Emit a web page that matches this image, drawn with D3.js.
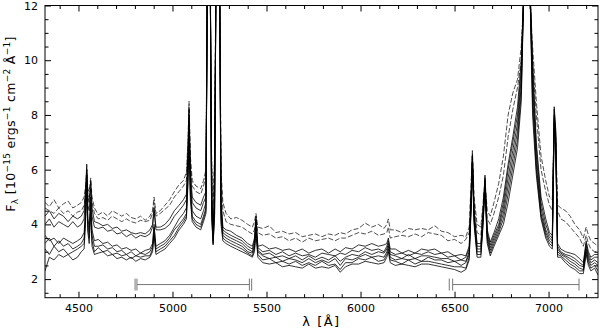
<!DOCTYPE html>
<html>
<head>
<meta charset="utf-8">
<script src="https://cdn.jsdelivr.net/npm/d3@7"></script>
<style>
  body { margin: 0; background: #fff; }
  text { font-family: "DejaVu Sans", sans-serif; fill: #000; }
</style>
</head>
<body>
<div id="chart"></div>
<script>
// ===== Data =====

// shared wavelength grid (Angstrom)
const lam = [
  4322,4345,4370,4395,4420,4445,4470,4495,4515,
  4530,4538,4544,4550,4557,4565,4572,4585,
  4605,4630,4655,4680,4705,4730,4755,4780,4805,4830,4855,4880,
  4894,4902,4912,
  4935,4960,4985,5010,5035,5058,5074,
  5082,5088,5095,5105,
  5125,5150,5165,
  5178,5186,5193,5200,5208,5216,5224,5232,5241,5250,5258,5268,
  5285,5310,5340,5370,5400,5425,
  5436,5444,5454,
  5480,5515,5550,5585,5620,5655,5690,5725,5760,5795,5830,5865,5892,5920,5955,5990,6025,6060,6095,6125,
  6140,6148,6158,
  6185,6220,6255,6290,6325,6360,6395,6430,6465,6500,6535,6560,
  6578,6588,6595,6604,6620,6640,6652,6662,6674,6690,6710,6735,6760,6785,6810,6835,6855,6870,6885,6900,6915,6935,6960,6985,7005,
  7020,7030,7038,7048,
  7065,7090,7115,7140,7165,7185,7200,7212,7225,7245,7263
];

const spec1 = [
  4.8,4.65,4.9,4.6,4.75,4.85,4.6,4.7,4.8,
  5.0,5.4,6.0,5.3,5.2,5.7,5.0,4.6,
  4.35,4.45,4.3,4.5,4.4,4.3,4.4,4.25,4.2,4.3,4.15,4.3,
  4.5,5.0,4.4,
  4.5,4.7,4.9,5.2,5.45,5.6,5.9,
  7.0,8.5,6.5,5.6,
  5.4,5.3,5.6,
  6.0,14,16,14,6.5,5.0,6.5,14,16,14,6.0,4.8,
  4.4,4.2,4.25,4.15,4.0,3.9,
  4.1,4.4,3.9,
  3.85,3.95,3.7,3.75,3.65,3.7,3.55,3.6,3.65,3.55,3.65,3.6,3.7,3.65,3.8,3.85,4.05,3.9,4.0,3.85,
  4.0,4.2,3.8,
  3.8,3.7,3.85,3.8,3.85,3.8,3.95,3.75,3.7,3.55,3.6,3.55,
  3.9,5.5,6.7,5.0,4.0,3.9,4.8,5.6,4.5,4.3,4.8,5.5,6.5,8.0,8.8,9.3,10.5,12.5,13,12.5,10.5,8.5,6.5,5.6,5.0,
  4.9,7.6,7.2,4.7,
  4.6,4.5,4.3,4.0,3.8,3.5,3.9,3.6,3.4,3.3,3.2
];

const spec2 = [
  4.6,4.5,4.4,4.6,4.4,4.5,4.3,4.45,4.5,
  4.7,5.2,5.8,5.1,5.0,5.5,4.8,4.4,
  4.2,4.25,4.15,4.3,4.2,4.1,4.2,4.1,4.05,4.15,4.1,4.15,
  4.4,4.8,4.3,
  4.4,4.55,4.7,5.0,5.2,5.4,5.6,
  6.8,8.3,6.3,5.4,
  5.2,5.1,5.4,
  5.8,14,16,14,6.2,4.7,6.2,14,16,14,5.7,4.5,
  4.1,4.0,3.95,3.9,3.75,3.65,
  3.8,4.2,3.7,
  3.6,3.65,3.5,3.55,3.4,3.5,3.35,3.5,3.4,3.45,3.5,3.4,3.5,3.5,3.6,3.7,3.65,3.75,3.6,3.65,
  3.7,3.9,3.5,
  3.55,3.6,3.55,3.65,3.55,3.7,3.65,3.6,3.4,3.45,3.3,3.45,
  3.7,5.3,6.5,4.8,3.7,3.6,4.6,5.4,4.2,4.0,4.4,5.0,5.8,7.2,8.2,9.0,10.0,12.5,13,12.5,10.0,8.0,6.0,5.2,4.7,
  4.5,7.8,7.0,4.5,
  4.2,4.1,3.9,3.7,3.5,3.2,3.6,3.3,3.1,3.0,3.0
];

const spec3 = [
  4.3,4.5,4.2,4.4,4.3,4.1,4.3,4.2,4.3,
  4.5,5.3,6.2,5.0,4.8,5.6,4.6,4.1,
  4.05,3.95,4.0,3.85,3.9,3.75,3.8,3.7,3.65,3.7,3.65,3.8,
  4.0,4.6,3.9,
  3.9,4.0,4.2,4.5,4.7,4.9,5.1,
  6.5,8.2,6.0,5.0,
  4.8,4.7,5.0,
  5.2,14,16,14,5.5,4.0,5.5,14,16,14,5.0,3.9,
  3.8,3.75,3.6,3.5,3.3,3.2,
  3.5,4.3,3.2,
  3.25,3.1,3.15,3.05,3.1,3.0,3.1,2.95,3.05,3.1,2.95,3.1,3.0,3.15,3.1,3.25,3.2,3.3,3.2,3.25,
  3.3,3.5,3.1,
  3.1,2.95,3.05,2.95,3.1,3.05,3.1,2.95,3.0,2.85,2.9,2.85,
  3.2,5.0,6.6,4.5,3.3,3.3,4.5,5.8,3.8,3.35,3.7,4.2,5.0,6.2,7.2,8.3,10,13,14,13,10,7.0,5.0,4.2,3.7,
  3.6,8.3,7.5,3.3,
  3.1,3.0,2.95,2.9,2.75,2.6,3.4,3.0,2.8,2.9,2.9
];

const spec4 = [
  4.0,4.2,3.9,4.1,4.0,3.9,4.1,3.9,4.0,
  4.2,5.0,6.0,4.7,4.5,5.3,4.3,3.9,
  3.85,3.9,3.75,3.8,3.65,3.7,3.55,3.65,3.5,3.6,3.55,3.65,
  3.9,4.5,3.8,
  3.8,3.85,4.0,4.3,4.5,4.7,4.9,
  6.3,8.0,5.8,4.8,
  4.6,4.5,4.8,
  5.0,14,16,14,5.2,3.8,5.2,14,16,14,4.8,3.8,
  3.7,3.6,3.5,3.4,3.2,3.1,
  3.4,4.2,3.15,
  3.0,3.05,2.9,3.0,2.85,2.95,2.85,2.9,2.8,2.95,2.9,2.85,2.95,2.9,3.05,3.0,3.15,3.05,3.1,3.0,
  3.2,3.4,3.0,
  2.9,2.95,2.85,2.95,2.9,3.0,2.9,2.95,2.8,2.85,2.7,2.8,
  3.1,4.9,6.5,4.4,3.2,3.2,4.4,5.7,3.7,3.25,3.6,4.0,4.8,6.0,7.0,8.0,9.7,13,14,13,9.6,6.8,4.8,4.0,3.6,
  3.5,8.2,7.4,3.2,
  3.0,2.9,2.85,2.75,2.6,2.5,3.3,2.9,2.7,2.8,2.8
];

const spec5 = [
  3.6,3.4,3.5,3.3,3.5,3.4,3.3,3.4,3.5,
  3.7,4.6,5.8,4.2,3.9,5.0,3.8,3.4,
  3.45,3.3,3.35,3.2,3.25,3.1,3.15,3.05,3.1,2.95,3.05,3.1,
  3.3,4.0,3.2,
  3.3,3.4,3.6,3.9,4.2,4.4,4.6,
  6.0,7.8,5.5,4.5,
  4.3,4.2,4.5,
  4.8,14,16,14,4.9,3.5,4.9,14,16,14,4.6,3.7,
  3.6,3.5,3.4,3.3,3.1,3.0,
  3.3,4.0,3.05,
  2.9,2.95,2.8,2.85,2.75,2.85,2.7,2.85,2.7,2.8,2.7,2.85,2.65,2.8,2.9,2.85,3.0,2.9,3.0,2.95,
  3.1,3.3,2.9,
  2.85,2.75,2.9,2.75,2.85,2.85,2.8,2.75,2.75,2.65,2.7,2.65,
  3.0,4.8,6.4,4.3,3.1,3.1,4.3,5.6,3.6,3.15,3.5,3.9,4.6,5.7,6.7,7.7,9.4,13,14,13,9.2,6.5,4.6,3.8,3.5,
  3.4,8.0,7.3,3.1,
  2.95,2.85,2.75,2.65,2.5,2.45,3.2,2.8,2.6,2.7,2.6
];

const spec6 = [
  3.3,3.5,3.2,3.4,3.2,3.3,3.1,3.2,3.3,
  3.5,4.4,5.6,4.0,3.7,4.8,3.6,3.2,
  3.2,3.25,3.1,3.15,3.0,3.05,2.9,3.0,2.85,2.95,2.9,3.0,
  3.2,3.9,3.1,
  3.2,3.3,3.5,3.8,4.0,4.2,4.4,
  5.8,7.6,5.3,4.3,
  4.1,4.0,4.3,
  4.6,14,16,14,4.6,3.4,4.6,14,16,14,4.4,3.6,
  3.5,3.4,3.3,3.2,3.0,2.95,
  3.2,3.9,3.0,
  2.85,2.75,2.8,2.65,2.75,2.7,2.6,2.75,2.6,2.7,2.6,2.75,2.5,2.75,2.7,2.8,2.9,2.8,2.85,2.8,
  3.0,3.2,2.8,
  2.7,2.75,2.7,2.75,2.65,2.8,2.7,2.7,2.6,2.65,2.5,2.6,
  2.9,4.7,6.3,4.2,3.0,3.0,4.2,5.5,3.5,3.05,3.4,3.8,4.4,5.4,6.4,7.4,9.1,13,14,13,8.8,6.2,4.4,3.7,3.4,
  3.3,7.9,7.1,3.0,
  2.9,2.8,2.65,2.55,2.4,2.35,3.1,2.7,2.5,2.6,2.5
];

const spec7 = [
  3.1,2.9,3.2,3.0,3.1,2.9,3.0,3.1,3.2,
  3.3,4.3,5.5,3.8,3.5,4.6,3.4,3.0,
  3.15,3.0,3.05,2.9,2.95,2.85,2.9,2.75,2.85,2.8,2.85,2.85,
  3.1,3.7,3.0,
  3.1,3.2,3.4,3.6,3.9,4.1,4.3,
  5.6,7.4,5.1,4.2,
  4.0,3.9,4.2,
  4.5,14,16,14,4.4,3.3,4.4,14,16,14,4.2,3.5,
  3.4,3.3,3.2,3.1,2.95,2.85,
  3.1,3.8,2.9,
  2.7,2.75,2.6,2.65,2.55,2.65,2.5,2.6,2.5,2.65,2.5,2.55,2.35,2.6,2.6,2.75,2.7,2.8,2.65,2.7,
  2.9,3.1,2.7,
  2.65,2.55,2.7,2.55,2.65,2.65,2.6,2.55,2.5,2.45,2.45,2.4,
  2.8,4.6,6.2,4.1,2.9,2.9,4.1,5.4,3.4,2.95,3.3,3.7,4.2,5.1,6.1,7.1,8.8,13,14,13,8.4,6.0,4.3,3.6,3.3,
  3.2,7.7,7.0,2.9,
  2.85,2.7,2.55,2.45,2.3,2.3,3.0,2.6,2.4,2.5,2.3
];

const spec8 = [
  2.3,2.8,2.7,2.9,2.8,2.9,2.7,2.8,3.0,
  3.1,4.1,5.3,3.7,3.3,4.4,3.2,2.9,
  2.95,3.0,2.85,2.9,2.75,2.8,2.7,2.8,2.65,2.75,2.7,2.8,
  3.0,3.6,2.9,
  3.0,3.1,3.3,3.5,3.8,4.0,4.2,
  5.4,7.2,4.9,4.1,
  3.9,3.8,4.1,
  4.4,14,16,14,4.3,3.25,4.3,14,16,14,4.0,3.4,
  3.3,3.2,3.1,3.0,2.9,2.8,
  3.0,3.7,2.8,
  2.6,2.55,2.6,2.45,2.5,2.45,2.4,2.55,2.4,2.45,2.4,2.5,2.25,2.45,2.55,2.55,2.65,2.6,2.55,2.6,
  2.8,3.0,2.6,
  2.5,2.55,2.5,2.45,2.55,2.55,2.5,2.45,2.4,2.35,2.25,2.35,
  2.7,4.5,6.1,4.0,2.8,2.8,4.0,5.3,3.3,2.85,3.2,3.6,4.0,4.8,5.8,6.8,8.5,13,14,13,8.0,5.8,4.2,3.5,3.2,
  3.1,7.5,6.8,2.8,
  2.8,2.6,2.45,2.35,2.2,2.2,2.9,2.5,2.3,2.4,2.15
];

const spectra = [spec1, spec2, spec3, spec4, spec5, spec6, spec7, spec8];
const dashed = [true, true, false, false, false, false, false, false];

const xTicks = [4500, 5000, 5500, 6000, 6500, 7000];
const yTicks = [2, 4, 6, 8, 10, 12];

// fitting windows drawn under the spectra
const windows = [[4811, 5409], [6490, 7162]];
const windowEnds = [4801, 4811, 5409, 5421, 6472, 6490, 7162];
const windowLevel = 1.8;

// ===== Layout =====

let margin = {top: 5.5, right: 2, bottom: 32.3, left: 45},
    width = 600 - margin.left - margin.right,
    height = 330 - margin.top - margin.bottom;

let x = d3.scaleLinear().domain([4322, 7263]).range([0, width]),
    y = d3.scaleLinear().domain([1.32, 12]).range([height, 0]);

let svg = d3.select("#chart").append("svg")
    .attr("width", 600)
    .attr("height", 330);

let g = svg.append("g")
    .attr("transform", "translate(" + margin.left + "," + margin.top + ")");

g.append("clipPath").attr("id", "clip")
  .append("rect").attr("width", width).attr("height", height);

// ===== Spectra =====

let line = d3.line()
    .x((d, i) => x(lam[i]))
    .y(d => y(d));

g.append("g").attr("clip-path", "url(#clip)")
  .selectAll("path")
  .data(spectra)
  .enter().append("path")
    .attr("d", line)
    .attr("fill", "none")
    .attr("stroke", (d, i) => dashed[i] ? "#222" : "#000")
    .attr("stroke-width", 0.8)
    .attr("stroke-dasharray", (d, i) => dashed[i] ? "5,2" : null);

// ===== Fitting windows =====

g.selectAll(".win")
  .data(windows)
  .enter().append("line")
    .attr("class", "win")
    .attr("x1", d => x(d[0]))
    .attr("x2", d => x(d[1]))
    .attr("y1", y(windowLevel))
    .attr("y2", y(windowLevel))
    .attr("stroke", "#777")
    .attr("stroke-width", 1);

g.selectAll(".winEnd")
  .data(windowEnds)
  .enter().append("line")
    .attr("class", "winEnd")
    .attr("x1", d => x(d))
    .attr("x2", d => x(d))
    .attr("y1", y(windowLevel) - 6)
    .attr("y2", y(windowLevel) + 6)
    .attr("stroke", "#777")
    .attr("stroke-width", 1);

// ===== Axes (ticks inward on all four sides) =====

let xMinor = d3.range(4400, 7300, 100).filter(v => v % 500 !== 0),
    yMinor = d3.range(1.5, 12, 0.5).filter(v => v % 2 !== 0);

function axisPair(axisFn, scale, major, minor, translate, labels) {
  let a = g.append("g").attr("transform", translate);
  a.call(axisFn(scale).tickValues(minor).tickSize(-3.5).tickFormat(""));
  let b = g.append("g").attr("transform", translate);
  b.call(axisFn(scale).tickValues(major).tickSize(-6).tickPadding(7)
      .tickFormat(labels ? d3.format("d") : ""));
  [a, b].forEach(s => {
    s.select(".domain").remove();
    s.selectAll("line").attr("stroke", "#000");
    s.selectAll("text").attr("font-size", 11).attr("fill", "#000")
      .style("font-family", "DejaVu Sans, sans-serif");
  });
}

axisPair(d3.axisBottom, x, xTicks, xMinor, "translate(0," + height + ")", true);
axisPair(d3.axisTop, x, xTicks, xMinor, "translate(0,0)", false);
axisPair(d3.axisLeft, y, yTicks, yMinor, "translate(0,0)", true);
axisPair(d3.axisRight, y, yTicks, yMinor, "translate(" + width + ",0)", false);

g.append("rect")
    .attr("width", width)
    .attr("height", height)
    .attr("fill", "none")
    .attr("stroke", "#000")
    .attr("stroke-width", 1);

// ===== Titles =====

svg.append("text")
    .attr("x", margin.left + width / 2)
    .attr("y", 326)
    .attr("text-anchor", "middle")
    .attr("font-size", 13)
    .attr("letter-spacing", 1.5)
    .text("λ [Å]");

let yt = svg.append("text")
    .attr("transform", "translate(15,124) rotate(-90)")
    .attr("text-anchor", "middle")
    .attr("font-size", 12.5)
    .attr("letter-spacing", 0.3);

yt.append("tspan").text("F");
yt.append("tspan").attr("font-size", 9).attr("baseline-shift", "-3").text("λ");
yt.append("tspan").text("  [10");
yt.append("tspan").attr("font-size", 9).attr("baseline-shift", "5").text("−15");
yt.append("tspan").text("  ergs");
yt.append("tspan").attr("font-size", 9).attr("baseline-shift", "5").text("−1");
yt.append("tspan").text("  cm");
yt.append("tspan").attr("font-size", 9).attr("baseline-shift", "5").text("−2");
yt.append("tspan").text("  Å");
yt.append("tspan").attr("font-size", 9).attr("baseline-shift", "5").text("−1");
yt.append("tspan").text("]");
</script>
</body>
</html>
